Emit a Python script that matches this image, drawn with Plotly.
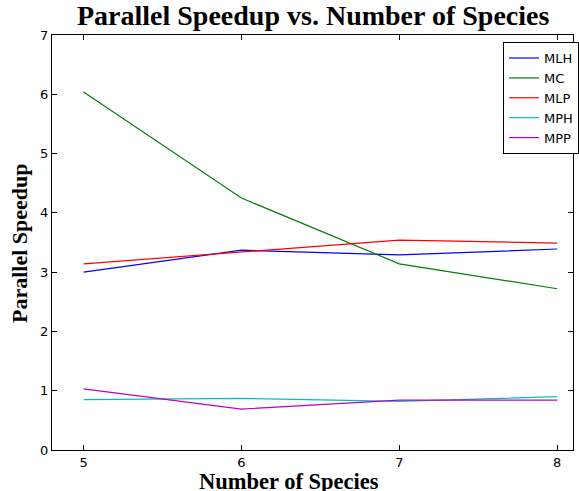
import plotly.graph_objects as go

species = [5, 6, 7, 8]
series_names = ["MLH", "MC", "MLP", "MPH", "MPP"]
mlh = [3.00, 3.37, 3.29, 3.39]
mc = [6.04, 4.25, 3.14, 2.72]
mlp = [3.14, 3.34, 3.54, 3.49]
mph = [0.85, 0.87, 0.82, 0.90]
mpp = [1.03, 0.69, 0.84, 0.84]
colors = ["#0000ff", "#008000", "#ff0000", "#00bfbf", "#bf00bf"]
y_ticks = [0, 1, 2, 3, 4, 5, 6, 7]
x_ticks = [5, 6, 7, 8]

fig = go.Figure()
for name, vals, col in zip(series_names, [mlh, mc, mlp, mph, mpp], colors):
    fig.add_trace(go.Scatter(x=species, y=vals, mode="lines", name=name,
                             line=dict(color=col, width=1.2)))

axis_common = dict(showline=True, linecolor="black", linewidth=1.3, mirror="ticks",
                   ticks="inside", ticklen=5, tickcolor="black", showgrid=False,
                   zeroline=False, tickfont=dict(family="DejaVu Sans", size=13, color="black"))

fig.update_layout(
    width=579, height=491,
    margin=dict(l=52, r=0, t=35, b=41),
    plot_bgcolor="white", paper_bgcolor="white",
    showlegend=True,
    legend=dict(x=0.866, y=0.983, xanchor="left", yanchor="top",
                bordercolor="black", borderwidth=1, bgcolor="white",
                font=dict(family="DejaVu Sans", size=13, color="black"),
                itemwidth=30, tracegroupgap=0),
    xaxis=dict(range=[4.8, 8.1], tickvals=x_ticks, ticktext=[str(v) for v in x_ticks], **axis_common),
    yaxis=dict(range=[0, 7], tickvals=y_ticks, ticktext=[str(v) for v in y_ticks], **axis_common),
    annotations=[
        dict(text="<b>Parallel Speedup vs. Number of Species</b>", xref="paper", yref="paper",
             x=0.5, y=1.0, yshift=2, xanchor="center", yanchor="bottom", showarrow=False,
             font=dict(family="Liberation Serif", size=28, color="black")),
        dict(text="<b>Number of Species</b>", xref="paper", yref="paper",
             x=0, xshift=237, y=0, yshift=-17, xanchor="center", yanchor="top", showarrow=False,
             font=dict(family="Liberation Serif", size=22.5, color="black")),
        dict(text="<b>Parallel Speedup</b>", xref="paper", yref="paper",
             x=0, xshift=-18, y=0.5, xanchor="right", yanchor="middle", textangle=-90,
             showarrow=False, font=dict(family="Liberation Serif", size=22, color="black")),
    ],
)

fig.write_html("out.html")
